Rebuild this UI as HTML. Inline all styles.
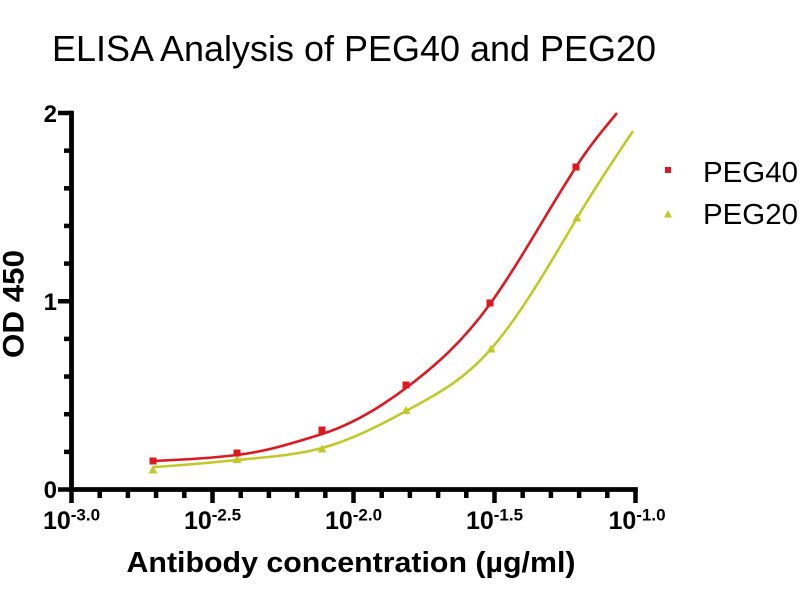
<!DOCTYPE html>
<html>
<head>
<meta charset="utf-8">
<style>
  html, body { margin: 0; padding: 0; background: #ffffff; }
  svg { display: block; }
</style>
</head>
<body>
<svg width="800" height="600" viewBox="0 0 800 600" xmlns="http://www.w3.org/2000/svg">
  <rect width="800" height="600" fill="#ffffff"/>

  <!-- Title -->
  <text x="52" y="61" font-family="Liberation Sans, Arial, sans-serif" font-size="36" fill="#000" textLength="604" lengthAdjust="spacingAndGlyphs">ELISA Analysis of PEG40 and PEG20</text>

  <!-- Y axis title -->
  <text transform="translate(23.5,304) rotate(-90)" text-anchor="middle" font-family="Liberation Sans, Arial, sans-serif" font-weight="bold" font-size="30" fill="#000" textLength="108" lengthAdjust="spacingAndGlyphs">OD 450</text>

  <!-- X axis title -->
  <text x="351" y="572" text-anchor="middle" font-family="Liberation Sans, Arial, sans-serif" font-weight="bold" font-size="29" fill="#000" textLength="449" lengthAdjust="spacingAndGlyphs">Antibody concentration (µg/ml)</text>

  <!-- Axes -->
  <g stroke="#000" stroke-width="4.8" fill="none">
    <line x1="71.5" y1="110.8" x2="71.5" y2="492"/>
    <line x1="69" y1="489.5" x2="637.8" y2="489.5"/>
  </g>

  <!-- Y ticks -->
  <g stroke="#000" stroke-width="4.5">
    <line x1="58" y1="113" x2="72" y2="113"/>
    <line x1="58" y1="301.25" x2="72" y2="301.25"/>
    <line x1="58" y1="489.5" x2="72" y2="489.5"/>
    <line x1="64" y1="150.65" x2="72" y2="150.65"/>
    <line x1="64" y1="188.3" x2="72" y2="188.3"/>
    <line x1="64" y1="225.95" x2="72" y2="225.95"/>
    <line x1="64" y1="263.6" x2="72" y2="263.6"/>
    <line x1="64" y1="338.9" x2="72" y2="338.9"/>
    <line x1="64" y1="376.55" x2="72" y2="376.55"/>
    <line x1="64" y1="414.2" x2="72" y2="414.2"/>
    <line x1="64" y1="451.85" x2="72" y2="451.85"/>
  </g>

  <!-- Y tick labels -->
  <g font-family="Liberation Sans, Arial, sans-serif" font-weight="bold" font-size="24" fill="#000" text-anchor="end">
    <text x="57" y="122">2</text>
    <text x="57" y="310">1</text>
    <text x="57" y="498">0</text>
  </g>

  <!-- X ticks -->
  <g stroke="#000" stroke-width="4.5">
    <line x1="71.5" y1="489" x2="71.5" y2="503"/>
    <line x1="99.7" y1="489" x2="99.7" y2="498"/>
    <line x1="127.9" y1="489" x2="127.9" y2="498"/>
    <line x1="156.1" y1="489" x2="156.1" y2="498"/>
    <line x1="184.3" y1="489" x2="184.3" y2="498"/>
    <line x1="212.5" y1="489" x2="212.5" y2="503"/>
    <line x1="240.7" y1="489" x2="240.7" y2="498"/>
    <line x1="268.9" y1="489" x2="268.9" y2="498"/>
    <line x1="297.1" y1="489" x2="297.1" y2="498"/>
    <line x1="325.3" y1="489" x2="325.3" y2="498"/>
    <line x1="353.5" y1="489" x2="353.5" y2="503"/>
    <line x1="381.7" y1="489" x2="381.7" y2="498"/>
    <line x1="409.9" y1="489" x2="409.9" y2="498"/>
    <line x1="438.1" y1="489" x2="438.1" y2="498"/>
    <line x1="466.3" y1="489" x2="466.3" y2="498"/>
    <line x1="494.5" y1="489" x2="494.5" y2="503"/>
    <line x1="522.7" y1="489" x2="522.7" y2="498"/>
    <line x1="550.9" y1="489" x2="550.9" y2="498"/>
    <line x1="579.1" y1="489" x2="579.1" y2="498"/>
    <line x1="607.3" y1="489" x2="607.3" y2="498"/>
    <line x1="635.5" y1="489" x2="635.5" y2="503"/>
  </g>

  <!-- X tick labels -->
  <g font-family="Liberation Sans, Arial, sans-serif" font-weight="bold" font-size="25" fill="#000" text-anchor="middle">
    <text x="71.5" y="529">10<tspan font-size="17" dy="-8.5">-3.0</tspan></text>
    <text x="212.5" y="529">10<tspan font-size="17" dy="-8.5">-2.5</tspan></text>
    <text x="353.5" y="529">10<tspan font-size="17" dy="-8.5">-2.0</tspan></text>
    <text x="494.5" y="529">10<tspan font-size="17" dy="-8.5">-1.5</tspan></text>
    <text x="637" y="529">10<tspan font-size="17" dy="-8.5">-1.0</tspan></text>
  </g>

  <!-- PEG20 curve -->
  <path d="M153,467 C181,465.6 209,462.8 237,460 C265.3,457.2 293.7,455.6 322,448 C350,440.4 378,426.4 406,411 C434.3,395.4 462.7,381.6 491,349 C519.7,316 548.3,266.7 577,218 C595.7,186.3 614.3,159 633,131"
        fill="none" stroke="#c2c826" stroke-width="2.6"/>

  <!-- PEG40 curve -->
  <path d="M153,461 C181,459.8 209,458.4 237,455 C265.3,451.6 293.7,443 322,434 C350,425.1 378,409.1 406,388 C434,366.9 462,342.9 490,304 C518.7,264.2 547.3,211.4 576,167 C589.7,145.8 603.3,129.4 617,113"
        fill="none" stroke="#df1820" stroke-width="2.6"/>

  <!-- PEG20 markers (triangles) -->
  <g fill="#c2c826">
    <polygon points="153,465.5 157.5,473.5 148.5,473.5"/>
    <polygon points="237,455 241.5,463 232.5,463"/>
    <polygon points="322,444.5 326.5,452.5 317.5,452.5"/>
    <polygon points="406,406 410.5,414 401.5,414"/>
    <polygon points="491,344.5 495.5,352.5 486.5,352.5"/>
    <polygon points="577,213.5 581.5,221.5 572.5,221.5"/>
  </g>

  <!-- PEG40 markers (squares) -->
  <g fill="#df1820">
    <rect x="149.5" y="457.5" width="7" height="7"/>
    <rect x="233.5" y="449.5" width="7" height="7"/>
    <rect x="318.5" y="426.5" width="7" height="7"/>
    <rect x="402.5" y="381.5" width="7" height="7"/>
    <rect x="486.5" y="299.5" width="7" height="7"/>
    <rect x="572.5" y="163.5" width="7" height="7"/>
  </g>

  <!-- Legend -->
  <rect x="665" y="167" width="6" height="6" fill="#df1820"/>
  <polygon points="668,210 672,217.5 664,217.5" fill="#c2c826"/>
  <g font-family="Liberation Sans, Arial, sans-serif" font-size="29" fill="#000">
    <text x="703" y="182" textLength="95" lengthAdjust="spacingAndGlyphs">PEG40</text>
    <text x="703" y="224" textLength="95" lengthAdjust="spacingAndGlyphs">PEG20</text>
  </g>
</svg>
</body>
</html>
